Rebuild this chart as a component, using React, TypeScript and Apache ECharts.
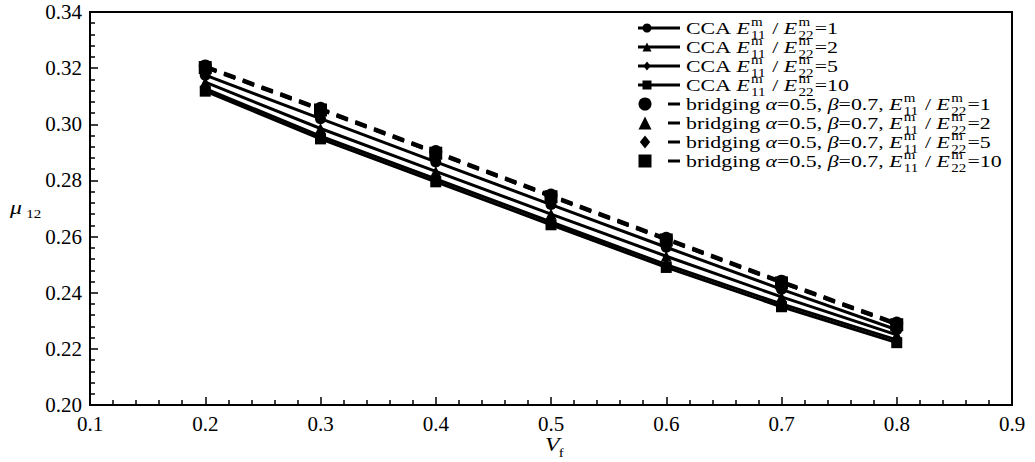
import React, { useEffect, useRef } from "react";
import * as echarts from "echarts";

// ---------------- data ----------------
const vf = [0.2, 0.3, 0.4, 0.5, 0.6, 0.7, 0.8];
const ratios = ["1", "2", "5", "10"];

const cca1 = [0.3175, 0.302, 0.2866, 0.2714, 0.2562, 0.2412, 0.2268];
const cca2 = [0.315, 0.2985, 0.2832, 0.268, 0.253, 0.2385, 0.225];
const cca5 = [0.3127, 0.2958, 0.2805, 0.2652, 0.25, 0.236, 0.2232];
const cca10 = [0.3118, 0.2948, 0.2795, 0.2642, 0.249, 0.235, 0.2222];

const br1 = [0.3208, 0.3057, 0.2903, 0.2748, 0.2594, 0.2441, 0.2292];
const br2 = [0.3205, 0.3054, 0.29, 0.2745, 0.2591, 0.2438, 0.2289];
const br5 = [0.3203, 0.3052, 0.2898, 0.2743, 0.2589, 0.2436, 0.2287];
const br10 = [0.3202, 0.3051, 0.2897, 0.2742, 0.2588, 0.2435, 0.2286];

const xTicks = { min: 0.1, max: 0.9, step: 0.1 };
const yTicks = { min: 0.2, max: 0.34, step: 0.02 };

const ccaSeries = [cca1, cca2, cca5, cca10];
const brSeries = [br1, br2, br5, br10];
const symbols = ["circle", "triangle", "diamond", "rect"];

// ---------------- helpers ----------------
const FAM = "Liberation Serif";
const MAIN = 17.5;
const SMALL = 12;
const STRETCH = 1.25;

let measureCtx: CanvasRenderingContext2D | null = null;
function tw(text: string, font: string): number {
  if (!measureCtx) measureCtx = document.createElement("canvas").getContext("2d");
  measureCtx!.font = font;
  return measureCtx!.measureText(text).width;
}

type Piece =
  | { k: "n" | "i"; t: string }
  | { k: "ss"; sup: string; sub: string };

function rowPieces(isBridging: boolean, r: string): Piece[] {
  const eRatio: Piece[] = [
    { k: "i", t: "E" },
    { k: "ss", sup: "m", sub: "11" },
    { k: "n", t: " / " },
    { k: "i", t: "E" },
    { k: "ss", sup: "m", sub: "22" },
    { k: "n", t: "=" + r },
  ];
  if (!isBridging) return [{ k: "n", t: "CCA " }, ...eRatio];
  return [
    { k: "n", t: "bridging " },
    { k: "i", t: "α" },
    { k: "n", t: "=0.5, " },
    { k: "i", t: "β" },
    { k: "n", t: "=0.7, " },
    ...eRatio,
  ];
}

function textEl(t: string, x: number, y: number, font: string) {
  return {
    type: "text",
    x,
    y,
    silent: true,
    style: { text: t, font, fill: "#000", align: "left", verticalAlign: "middle" },
  };
}

function piecesToEls(pieces: Piece[], x0: number, y: number) {
  const els: any[] = [];
  let x = x0;
  const fn = `${MAIN}px "${FAM}"`;
  const fi = `italic ${MAIN}px "${FAM}"`;
  const fs = `${SMALL}px "${FAM}"`;
  for (const p of pieces) {
    if (p.k === "ss") {
      els.push(textEl(p.sup, x + 1, y - 6, fs));
      els.push(textEl(p.sub, x + 1, y + 7, fs));
      x += Math.max(tw(p.sup, fs), tw(p.sub, fs)) + 2;
    } else {
      const f = p.k === "i" ? fi : fn;
      els.push(textEl(p.t, x, y, f));
      x += tw(p.t, f);
    }
  }
  return els;
}

function markerEl(sym: string, cx: number, cy: number, s: number) {
  const h = s / 2;
  const style = { fill: "#000" };
  if (sym === "circle") return { type: "circle", silent: true, shape: { cx, cy, r: h }, style };
  if (sym === "rect") return { type: "rect", silent: true, shape: { x: cx - h, y: cy - h, width: s, height: s }, style };
  if (sym === "triangle")
    return { type: "polygon", silent: true, shape: { points: [[cx, cy - h], [cx + h, cy + h], [cx - h, cy + h]] }, style };
  return { type: "polygon", silent: true, shape: { points: [[cx, cy - h], [cx + h * 0.8, cy], [cx, cy + h], [cx - h * 0.8, cy]] }, style };
}

function buildLegend() {
  const els: any[] = [];
  const texts: any[] = [];
  const rowY0 = 28;
  const rowDy = 19;
  ratios.forEach((r, i) => {
    const y = rowY0 + rowDy * i;
    els.push({ type: "line", silent: true, shape: { x1: 638, y1: y, x2: 680, y2: y }, style: { stroke: "#000", lineWidth: 3 } });
    els.push(markerEl(symbols[i], 647, y, 9));
    texts.push(...piecesToEls(rowPieces(false, r), 0, y));
  });
  ratios.forEach((r, i) => {
    const y = rowY0 + rowDy * (i + 4);
    els.push({ type: "line", silent: true, shape: { x1: 668, y1: y, x2: 680, y2: y }, style: { stroke: "#000", lineWidth: 3 } });
    els.push(markerEl(symbols[i], 645, y, 13));
    texts.push(...piecesToEls(rowPieces(true, r), 0, y));
  });
  els.push({ type: "group", x: 686, y: 0, scaleX: STRETCH, children: texts });
  return els;
}

function buildAxisTitles() {
  return [
    {
      type: "group",
      x: 10,
      y: 0,
      scaleX: STRETCH,
      children: [textEl("μ", 0, 208, `italic 19px "${FAM}"`), textEl("12", 13, 214, `12px "${FAM}"`)],
    },
    {
      type: "group",
      x: 545,
      y: 0,
      scaleX: STRETCH,
      children: [textEl("V", 0, 445, `italic 19px "${FAM}"`), textEl("f", 11, 453, `12px "${FAM}"`)],
    },
  ];
}

export default function App() {
  const ref = useRef<HTMLDivElement>(null);

  useEffect(() => {
    document.body.style.margin = "0";
    if (!ref.current) return;
    const chart = echarts.init(ref.current, undefined, { renderer: "svg" });

    const series: any[] = [];
    ccaSeries.forEach((vals, i) => {
      series.push({
        name: "CCA E11m/E22m=" + ratios[i],
        type: "line",
        data: vf.map((x, j) => [x, vals[j]]),
        symbol: symbols[i],
        symbolSize: 11,
        lineStyle: { color: "#000", width: 3, type: "solid" },
        itemStyle: { color: "#000" },
        z: 2,
      });
    });
    brSeries.forEach((vals, i) => {
      series.push({
        name: "bridging E11m/E22m=" + ratios[i],
        type: "line",
        data: vf.map((x, j) => [x, vals[j]]),
        symbol: symbols[i],
        symbolSize: 13,
        lineStyle: { color: "#000", width: 3, type: [12, 8] },
        itemStyle: { color: "#000" },
        z: 3,
      });
    });

    const axisCommon = {
      axisLine: { show: true, lineStyle: { color: "#000", width: 2 } },
      axisTick: { show: true, inside: true, length: 8, lineStyle: { color: "#000", width: 1.5 } },
      minorTick: { show: true, splitNumber: 5, length: 5, lineStyle: { color: "#000", width: 1.5 } },
      splitLine: { show: false },
    };

    chart.setOption({
      animation: false,
      backgroundColor: "#fff",
      grid: { left: 90, right: 23, top: 12, bottom: 57, show: true, borderColor: "#000", borderWidth: 2 },
      xAxis: {
        type: "value",
        min: xTicks.min,
        max: xTicks.max,
        interval: xTicks.step,
        ...axisCommon,
        axisLabel: {
          color: "#000",
          fontFamily: FAM,
          fontSize: 21,
          margin: 8,
          formatter: (v: number) => v.toFixed(1),
        },
      },
      yAxis: {
        type: "value",
        min: yTicks.min,
        max: yTicks.max,
        interval: yTicks.step,
        ...axisCommon,
        axisLabel: {
          color: "#000",
          fontFamily: FAM,
          fontSize: 21,
          margin: 8,
          formatter: (v: number) => v.toFixed(2),
        },
      },
      series,
      graphic: [...buildLegend(), ...buildAxisTitles()],
    });

    return () => chart.dispose();
  }, []);

  return <div ref={ref} style={{ width: 1035, height: 462 }} />;
}
